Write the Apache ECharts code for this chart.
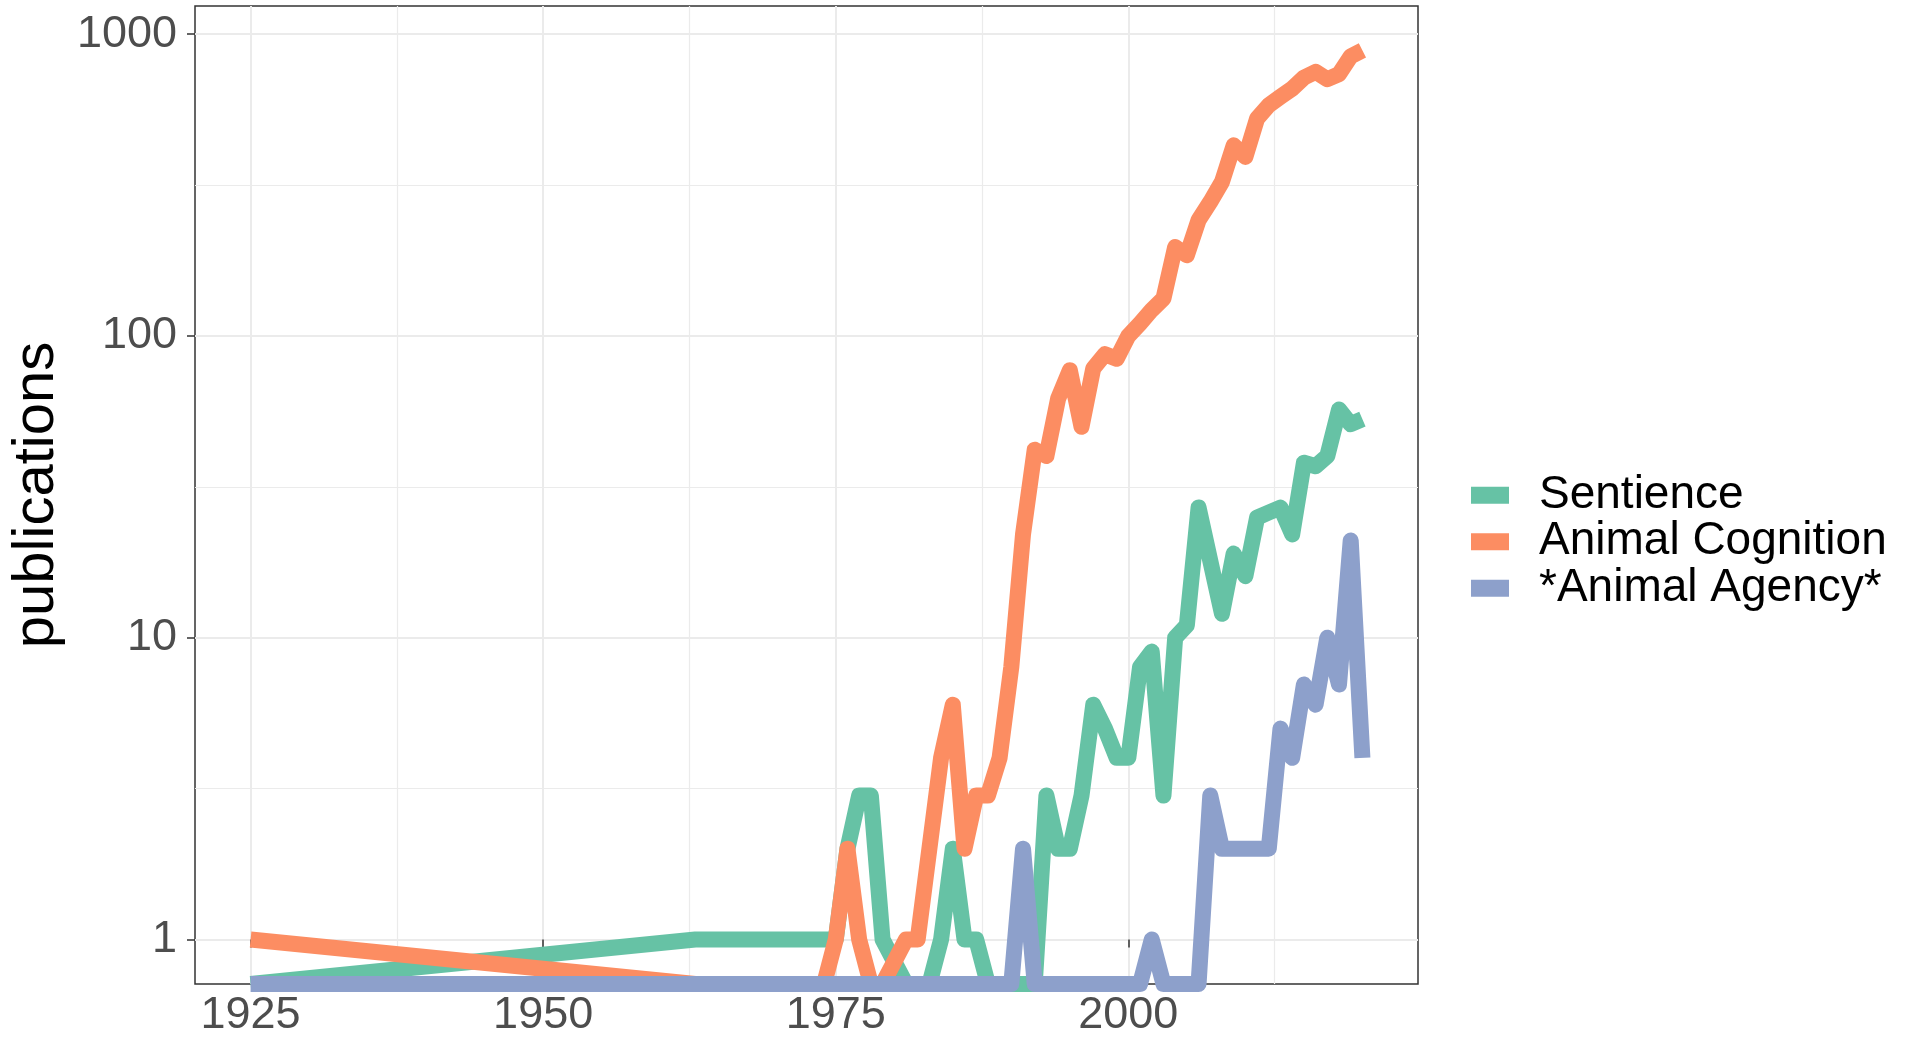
<!DOCTYPE html>
<html><head><meta charset="utf-8">
<script src="https://cdn.jsdelivr.net/npm/echarts@6/dist/echarts.min.js"></script>
<style>html,body{margin:0;padding:0;background:#fff}#c{width:1908px;height:1040px}</style>
</head><body><div id="c"></div>
<script>
const years = [1925, 1963, 1974, 1975, 1976, 1977, 1978, 1979, 1981, 1982, 1983, 1984, 1985, 1986, 1987, 1988, 1989, 1990,
  1991, 1992, 1993, 1994, 1995, 1996, 1997, 1998, 1999, 2000, 2001, 2002, 2003, 2004, 2005, 2006, 2007, 2008, 2009, 2010,
  2011, 2012, 2013, 2014, 2015, 2016, 2017, 2018, 2019, 2020];
const sentience = [0, 1, 1, 1, 2, 3, 3, 1, 0, 0, 0, 1, 2, 1, 1, 0, 0, 0,
  0, 0, 3, 2, 2, 3, 6, 5, 4, 4, 8, 9, 3, 10, 11, 27, 18, 12, 19, 16,
  25, 26, 27, 22, 38, 37, 40, 57, 51, 53];
const cognition = [1, 0, 0, 1, 2, 1, 0, 0, 1, 1, 2, 4, 6, 2, 3, 3, 4, 8,
  22, 42, 40, 62, 77, 50, 78, 87, 84, 100, 110, 122, 133, 197, 185, 242, 278, 324, 428, 392,
  525, 581, 620, 660, 718, 750, 709, 737, 844, 883];
const agency = [0, 0, 0, 0, 0, 0, 0, 0, 0, 0, 0, 0, 0, 0, 0, 0, 0, 0,
  2, 0, 0, 0, 0, 0, 0, 0, 0, 0, 0, 1, 0, 0, 0, 0, 3, 2, 2, 2,
  2, 2, 5, 4, 7, 6, 10, 7, 21, 4];
const seriesNames = ['Sentience', 'Animal Cognition', '*Animal Agency*'];
const xTicks = [1925, 1950, 1975, 2000];
const yTicks = [1, 10, 100, 1000];

const FONT = 'Liberation Sans, Arial, sans-serif';
const colors = ['#66C2A5', '#FC8D62', '#8DA0CB'];

// axis ranges (ggplot-style 5% expansion, log10 for y)
const allVals = sentience.concat(cognition, agency).filter(v => v > 0);
const logMax = Math.log10(Math.max.apply(null, allVals));
const logMin = Math.log10(Math.min.apply(null, allVals));
const yMin = logMin - 0.05 * (logMax - logMin);
const yMax = logMax + 0.05 * (logMax - logMin);
const xSpan = years[years.length - 1] - years[0];
const xMin = years[0] - 0.05 * xSpan;
const xMax = years[years.length - 1] + 0.05 * xSpan;

const yMajor = yTicks.map(v => Math.log10(v));
const yMinor = yMajor.slice(0, -1).map((v, i) => (v + yMajor[i + 1]) / 2);
const xMinor = [];
for (let i = 0; i < xTicks.length; i++) {
  const step = xTicks[1] - xTicks[0];
  xMinor.push(xTicks[i] + step / 2);
}

function toLog(v) { return v > 0 ? Math.log10(v) : yMin; }
const dataSets = [sentience, cognition, agency];

const chart = echarts.init(document.getElementById('c'), null, {renderer: 'canvas'});
const option = {
  animation: false,
  backgroundColor: '#ffffff',
  grid: {left: 195, right: 490, top: 6, bottom: 56, show: true, borderColor: '#333333', borderWidth: 1.5,
    backgroundColor: 'transparent', containLabel: false, outerBoundsMode: 'none'},
  xAxis: [{
    type: 'value', min: xMin, max: xMax,
    axisLine: {show: false},
    axisTick: {show: true, length: 8, lineStyle: {color: '#333333', width: 1.5}, customValues: xTicks},
    axisLabel: {customValues: xTicks, fontSize: 45, color: '#4D4D4D', fontFamily: FONT, margin: 9,
      formatter: v => String(Math.round(v))},
    splitLine: {show: true, lineStyle: {color: '#EBEBEB', width: 2}}
  }, {
    type: 'value', min: xMin, max: xMax, position: 'top',
    axisLine: {show: false},
    axisTick: {show: false, customValues: xMinor},
    axisLabel: {show: false, customValues: xMinor},
    splitLine: {show: true, lineStyle: {color: '#EBEBEB', width: 1.2}}
  }],
  yAxis: [{
    type: 'value', min: yMin, max: yMax,
    name: 'publications', nameLocation: 'middle', nameGap: 120, nameRotate: 90,
    nameTextStyle: {fontSize: 58, color: '#000000', fontFamily: FONT},
    axisLine: {show: false},
    axisTick: {show: true, length: 8, lineStyle: {color: '#333333', width: 1.5}, customValues: yMajor},
    axisLabel: {customValues: yMajor, fontSize: 45, color: '#4D4D4D', fontFamily: FONT, margin: 18,
      formatter: v => String(Math.round(Math.pow(10, v)))},
    splitLine: {show: true, lineStyle: {color: '#EBEBEB', width: 2}}
  }, {
    type: 'value', min: yMin, max: yMax, position: 'right',
    axisLine: {show: false},
    axisTick: {show: false, customValues: yMinor},
    axisLabel: {show: false, customValues: yMinor},
    splitLine: {show: true, lineStyle: {color: '#EBEBEB', width: 1.2}}
  }],
  legend: {
    orient: 'vertical', left: 1466, top: 467, itemWidth: 38, itemHeight: 17, itemGap: 0, icon: 'rect',
    textStyle: {fontSize: 46, color: '#000000', fontFamily: FONT, lineHeight: 46.5, padding: [0, 0, 0, 25]},
    data: seriesNames
  },
  series: seriesNames.map((name, k) => ({
    type: 'line', name: name, xAxisIndex: 0, yAxisIndex: 0,
    data: years.map((yr, i) => [yr, toLog(dataSets[k][i])]),
    showSymbol: false, symbol: 'none', clip: true,
    lineStyle: {width: 16, color: colors[k], cap: 'butt', join: 'round'},
    itemStyle: {color: colors[k]},
    emphasis: {disabled: true}
  }))
};
chart.setOption(option);
</script></body></html>
